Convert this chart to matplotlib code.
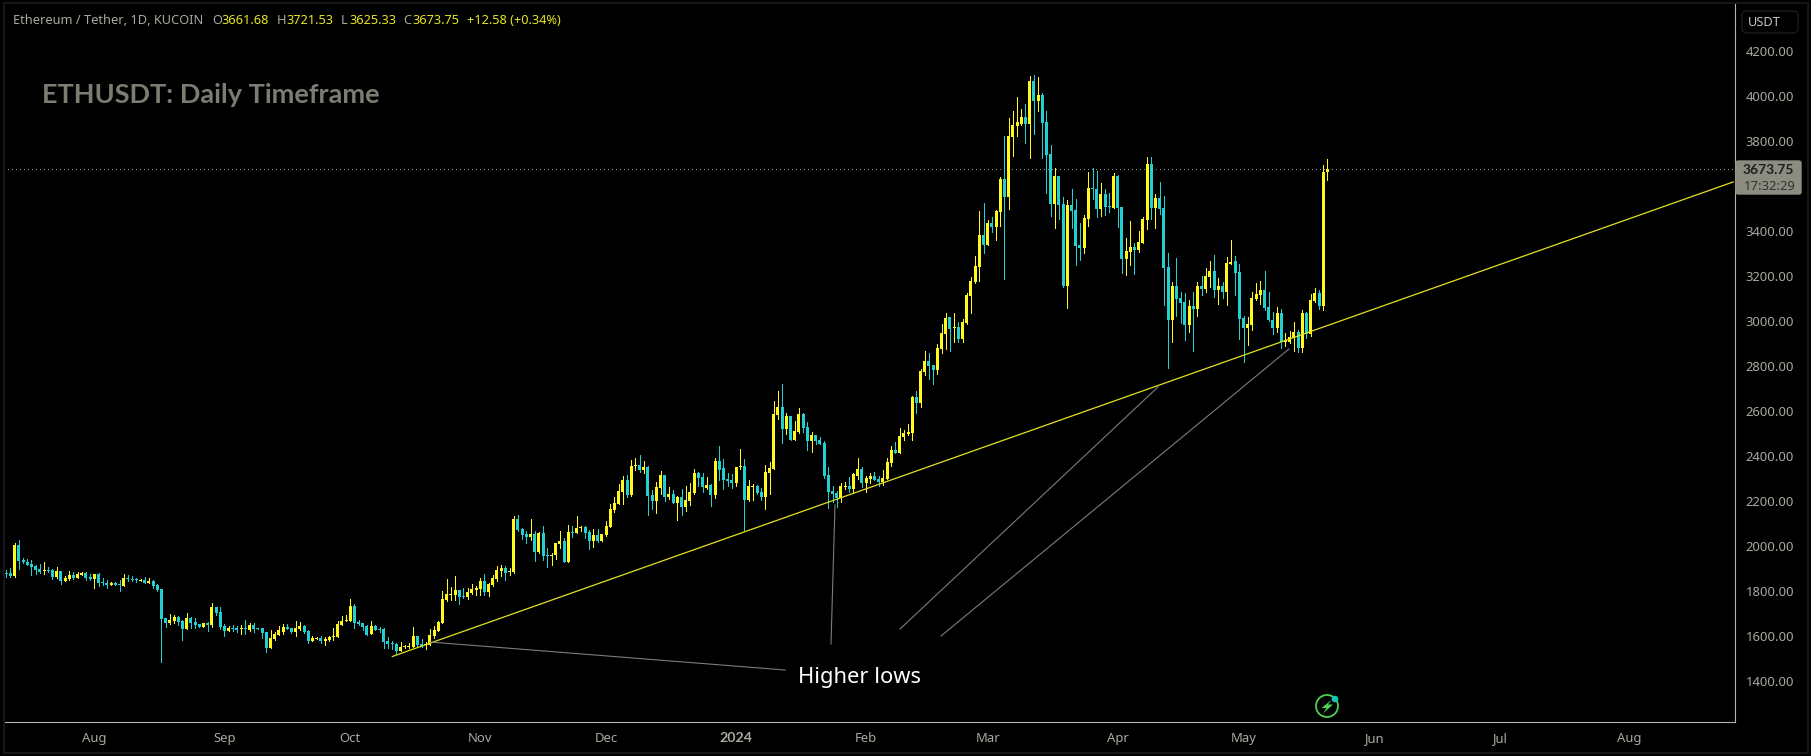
import matplotlib
matplotlib.use("Agg")
import matplotlib.pyplot as plt
from matplotlib.patches import Rectangle, FancyBboxPatch, Circle, Polygon
import numpy as np
import pandas as pd

START = "2023-07-11"
opens = [
1882,1881,1867,2005,1938,1930,1921,1912,1898,1890,
1894,1894,1863,1890,1845,1854,1872,1858,1872,1881,
1863,1854,1876,1841,1836,1827,1836,1832,1823,1858,
1854,1854,1845,1850,1836,1845,1827,1809,1680,1658,
1667,1685,1667,1632,1680,1663,1654,1640,1658,1649,
1729,1707,1645,1623,1636,1636,1632,1636,1627,1649,
1636,1636,1618,1547,1587,1605,1618,1640,1636,1618,
1632,1645,1623,1578,1587,1592,1578,1583,1596,1596,
1649,1667,1667,1734,1663,1658,1645,1609,1645,1632,
1632,1578,1569,1565,1534,1552,1552,1552,1600,1565,
1560,1560,1600,1623,1658,1761,1783,1783,1805,1778,
1774,1792,1805,1809,1845,1796,1827,1854,1889,1903,
1885,1885,2120,2076,2054,2040,2054,1974,2058,1960,
1956,1960,2009,2022,1929,2062,2058,2080,2085,2062,
2022,2049,2022,2049,2085,2160,2187,2240,2293,2227,
2356,2360,2338,2351,2227,2200,2258,2316,2218,2231,
2191,2218,2173,2200,2236,2324,2307,2258,2271,2227,
2378,2347,2298,2293,2280,2351,2356,2205,2262,2267,
2240,2218,2325,2342,2582,2618,2520,2578,2471,2507,
2587,2529,2467,2493,2471,2458,2316,2245,2236,2213,
2262,2267,2253,2311,2342,2280,2298,2311,2298,2285,
2298,2369,2427,2413,2484,2498,2502,2662,2635,2774,
2823,2805,2783,2876,2943,3018,2970,2974,2921,2991,
3111,3174,3240,3382,3338,3436,3418,3484,3631,3551,
3818,3867,3876,3907,3876,4067,3978,4005,3885,3742,
3520,3644,3520,3156,3516,3493,3338,3325,3453,3591,
3587,3498,3564,3511,3502,3644,3507,3276,3307,3329,
3316,3347,3449,3698,3502,3547,3502,3240,3005,3156,
3103,3085,2983,3067,3054,3156,3143,3196,3223,3138,
3156,3130,3254,3267,3218,3014,2970,2983,3098,3116,
3138,3063,3005,2970,3036,2907,2907,2925,2952,2881,
3036,2943,3090,3125,3067,3661.68]
highs = [
1894,1903,2014,2027,1947,1943,1938,1916,1921,1930,
1907,1898,1907,1890,1867,1890,1885,1885,1885,1885,
1876,1876,1881,1858,1850,1841,1841,1850,1876,1872,
1867,1858,1854,1863,1858,1850,1832,1809,1680,1698,
1694,1689,1672,1703,1685,1680,1654,1658,1663,1747,
1729,1729,1654,1645,1649,1645,1649,1672,1658,1658,
1636,1636,1618,1627,1618,1645,1654,1654,1636,1667,
1663,1649,1627,1600,1596,1600,1596,1600,1636,1667,
1689,1694,1765,1743,1672,1658,1649,1667,1649,1640,
1636,1596,1578,1569,1574,1560,1569,1640,1600,1587,
1574,1632,1645,1667,1800,1854,1818,1867,1805,1814,
1814,1831,1823,1858,1876,1836,1872,1912,1916,1912,
1903,2133,2138,2080,2067,2120,2067,2062,2089,1991,
1969,2014,2067,2036,2093,2089,2133,2089,2089,2071,
2076,2076,2054,2111,2187,2218,2276,2311,2316,2382,
2391,2404,2378,2356,2249,2284,2333,2316,2262,2249,
2222,2253,2267,2280,2342,2329,2324,2307,2276,2391,
2444,2387,2324,2320,2351,2431,2387,2293,2276,2271,
2258,2360,2373,2644,2689,2720,2591,2578,2556,2613,
2591,2551,2507,2493,2484,2467,2351,2267,2245,2280,
2285,2307,2325,2391,2351,2311,2325,2329,2311,2338,
2391,2444,2462,2524,2516,2542,2667,2690,2788,2868,
2859,2805,2899,2987,3036,3018,3036,2996,3009,3124,
3196,3289,3489,3524,3449,3462,3493,3640,3823,3903,
3934,3996,3943,3965,4089,4094,4085,4014,3934,3782,
3680,3644,3551,3538,3587,3542,3436,3471,3662,3680,
3667,3613,3587,3569,3658,3649,3507,3369,3445,3347,
3400,3462,3729,3729,3564,3618,3556,3303,3174,3280,
3130,3125,3094,3130,3174,3200,3236,3267,3294,3192,
3174,3285,3360,3289,3254,3023,3018,3130,3169,3178,
3223,3130,3041,3063,3054,2947,2956,2996,2961,3050,
3041,3121,3147,3138,3693,3721.53]
lows = [
1864,1863,1863,1898,1925,1916,1872,1876,1881,1876,
1885,1854,1858,1832,1845,1850,1854,1858,1872,1850,
1850,1814,1823,1827,1814,1827,1827,1801,1823,1845,
1845,1841,1845,1836,1836,1814,1801,1485,1640,1654,
1658,1649,1583,1632,1636,1636,1640,1640,1623,1640,
1694,1632,1600,1623,1623,1618,1609,1609,1623,1618,
1632,1592,1529,1547,1583,1605,1609,1632,1614,1600,
1627,1614,1569,1578,1587,1569,1560,1578,1583,1596,
1649,1667,1667,1636,1649,1627,1605,1609,1627,1618,
1547,1547,1543,1521,1534,1547,1547,1552,1552,1552,
1543,1560,1592,1623,1658,1756,1760,1760,1743,1769,
1765,1787,1783,1783,1783,1778,1823,1845,1867,1849,
1872,1880,2067,2031,2014,2027,1934,1969,1938,1907,
1916,1943,1991,1929,1929,2040,2058,2067,2036,1987,
1996,2018,2022,2045,2085,2151,2187,2187,2218,2222,
2338,2329,2324,2138,2165,2147,2231,2200,2209,2191,
2116,2138,2156,2182,2231,2267,2240,2253,2178,2213,
2293,2253,2267,2258,2267,2342,2071,2200,2205,2231,
2205,2165,2231,2342,2564,2458,2498,2471,2471,2502,
2507,2427,2418,2453,2453,2302,2169,2196,2173,2196,
2253,2240,2236,2298,2262,2240,2280,2294,2267,2271,
2298,2356,2413,2413,2471,2493,2471,2591,2618,2761,
2743,2721,2765,2859,2876,2868,2908,2908,2908,2987,
3036,3169,3178,3302,3338,3396,3360,3422,3187,3498,
3734,3823,3872,3792,3725,3832,3934,3725,3570,3467,
3413,3453,3152,3058,3413,3249,3271,3302,3422,3542,
3462,3467,3471,3484,3502,3418,3214,3205,3249,3209,
3307,3347,3409,3453,3413,3476,3072,2792,2908,3023,
2992,2916,2952,2868,3023,3116,3130,3152,3107,3076,
3103,3072,3254,3116,2921,2819,2894,2961,3094,3076,
3050,3000,2943,2952,2881,2890,2903,2868,2863,2863,
2925,2934,3085,3054,3050,3625.33]
closes = [
1876,1867,2005,1934,1930,1916,1907,1894,1885,1894,
1890,1863,1890,1845,1858,1872,1858,1876,1881,1858,
1854,1876,1836,1836,1827,1836,1827,1827,1858,1854,
1850,1850,1850,1836,1845,1823,1805,1676,1658,1672,
1685,1663,1632,1680,1658,1649,1640,1658,1649,1729,
1703,1640,1623,1636,1632,1627,1636,1632,1649,1632,
1632,1614,1547,1592,1609,1627,1640,1632,1618,1636,
1645,1618,1578,1592,1592,1578,1587,1596,1600,1654,
1667,1672,1734,1658,1654,1640,1605,1645,1627,1627,
1574,1565,1565,1534,1552,1556,1556,1600,1560,1556,
1565,1605,1627,1663,1765,1787,1787,1805,1774,1774,
1796,1809,1814,1845,1796,1832,1858,1894,1903,1880,
1889,2120,2071,2049,2040,2054,1974,2058,1956,1956,
1960,2014,2022,1929,2062,2058,2080,2085,2058,2022,
2049,2022,2054,2089,2165,2191,2245,2293,2227,2356,
2360,2338,2351,2222,2200,2262,2316,2218,2231,2191,
2218,2173,2205,2240,2324,2302,2262,2271,2227,2378,
2338,2293,2289,2280,2351,2356,2205,2267,2267,2236,
2218,2329,2347,2587,2618,2520,2578,2471,2511,2587,
2524,2467,2493,2467,2453,2311,2240,2231,2213,2267,
2267,2253,2320,2342,2280,2302,2311,2294,2285,2302,
2373,2427,2413,2489,2502,2507,2662,2635,2779,2823,
2801,2783,2881,2947,3014,2965,2974,2921,2996,3115,
3178,3245,3382,3338,3436,3418,3489,3631,3551,3822,
3872,3885,3907,3876,4067,3978,4005,3880,3738,3520,
3644,3516,3156,3516,3489,3334,3325,3458,3591,3587,
3498,3564,3507,3507,3644,3502,3276,3311,3329,3316,
3351,3453,3698,3502,3547,3498,3236,3005,3156,3098,
3081,2983,3067,3054,3156,3143,3200,3223,3138,3156,
3130,3258,3263,3214,3010,2970,2987,3103,3121,3138,
3058,3005,2970,3036,2907,2916,2930,2952,2881,3036,
2943,3094,3125,3067,3662,3673.75]
last_price = 3673.75
y_ticks = list(range(1400, 4201, 200))
month_starts = ["2023-08-01","2023-09-01","2023-10-01","2023-11-01","2023-12-01","2024-01-01",
                "2024-02-01","2024-03-01","2024-04-01","2024-05-01","2024-06-01","2024-07-01","2024-08-01"]
month_labels = ["Aug","Sep","Oct","Nov","Dec","2024","Feb","Mar","Apr","May","Jun","Jul","Aug"]
trend_days = [91.9, 411.9]
trend_prices = [1508, 3619]

FONT = "Noto Sans"
BOLD = "Lato"
W, H = 1811, 756
BG = "#000000"
YEL, TEAL = "#FFF91E", "#22CFD3"
TXT = "#A9A9A0"
plt.rcParams["font.family"] = FONT

fig = plt.figure(figsize=(W/100, H/100), dpi=100, facecolor=BG)
L, R, T, B = 4, 1735, 4, 721.5
ax = fig.add_axes([L/W, 1-B/H, (R-L)/W, (B-T)/H], facecolor=BG)

o, h, l, c = map(np.array, (opens, highs, lows, closes))
x = np.arange(len(o))
cols = np.where(c >= o, YEL, TEAL)

px_day = 4.194
x0_px = 6.3
ax.set_xlim((L-x0_px)/px_day, (R-x0_px)/px_day)
px_usd = 0.225
ax.set_ylim(4200-(B-51)/px_usd, 4200-(T-51)/px_usd)

ax.vlines(x, l, h, colors=cols, linewidth=0.72, antialiased=False, zorder=3)
top, bot = np.maximum(o, c), np.minimum(o, c)
ax.bar(x, np.maximum(top-bot, 4.5), bottom=bot, width=3/px_day, color=cols, linewidth=0,
       antialiased=False, zorder=4)

ax.axhline(last_price, color="#8f8f8f", lw=0.72, dashes=(1, 3), antialiased=False, zorder=2)
ax.plot(trend_days, trend_prices, color="#E2E21E", lw=0.9, zorder=5, solid_capstyle="butt")

start = pd.Timestamp(START)
ax.set_xticks([(pd.Timestamp(d)-start).days for d in month_starts])
ax.set_xticklabels(month_labels)
ax.set_yticks(y_ticks)
ax.set_yticklabels([f"{v}.00" for v in y_ticks])
ax.yaxis.tick_right()
ax.tick_params(axis="x", length=0, colors=TXT, labelsize=9.4, pad=7.5)
ax.tick_params(axis="y", length=0, colors=TXT, labelsize=9.4, pad=7.5)
for lab, name in zip(ax.get_xticklabels(), month_labels):
    if name == "2024":
        lab.set_fontfamily(BOLD)
        lab.set_fontweight("bold")
        lab.set_fontsize(10.2)
for s in ("left", "top"):
    ax.spines[s].set_visible(False)
for s in ("right", "bottom"):
    ax.spines[s].set_color("#B4B4AC")
    ax.spines[s].set_linewidth(0.8)

# overlay in image pixels for drawings, tag, legend line and frame
ov = fig.add_axes([0, 0, 1, 1], facecolor="none")
ov.set_xlim(0, W); ov.set_ylim(H, 0); ov.axis("off")
ov.add_patch(Rectangle((3.5, 2.5), W-7, H-6, fill=False, ec="#161616", lw=1.5))

seg = "#7C7C7C"
for (xa, ya, xb, yb) in [(430, 642, 785, 670), (835, 505, 831, 644), (1158, 387, 900, 629), (1289, 349, 941, 636)]:
    ov.plot([xa, xb], [ya, yb], color=seg, lw=0.8, zorder=6)
ov.text(860, 677, "Higher lows", color="white", fontsize=15.8, fontweight="medium",
        ha="center", va="center")
ov.text(42, 95, "ETHUSDT: Daily Timeframe", color="#7C7C72", fontsize=19.5, fontfamily=BOLD,
        fontweight="bold", ha="left", va="center")

# legend line
y0 = 20
ov.text(13, y0, "Ethereum / Tether, 1D, KUCOIN", color=TXT, fontsize=9.2, va="center")
for xk, k, xv, v in [(212, "O", 221, "3661.68"), (277, "H", 286, "3721.53"),
                     (341, "L", 349, "3625.33"), (403, "C", 412, "3673.75")]:
    ov.text(xk, y0, k, color=TXT, fontsize=9.2, va="center")
    ov.text(xv, y0, v, color="#E6E620", fontsize=9.2, va="center")
ov.text(467, y0, "+12.58 (+0.34%)", color="#E6E620", fontsize=9.2, va="center")

# scale widgets
ov.add_patch(FancyBboxPatch((1742, 11), 56, 22, boxstyle="round,pad=0,rounding_size=5",
                            fc=BG, ec="#1C1C1C", lw=1))
ov.text(1764, 22, "USDT", color="#C4C4C0", fontsize=9.2, ha="center", va="center")
ov.add_patch(FancyBboxPatch((1736, 161), 65, 33, boxstyle="round,pad=0,rounding_size=2",
                            fc="#8C8C80", ec="#8C8C80", lw=1))
ov.text(1768, 170, "3673.75", color="#1E1E1E", fontsize=10, fontfamily=BOLD, fontweight="bold",
        ha="center", va="center")
ov.text(1770, 186, "17:32:29", color="#333333", fontsize=9.4, ha="center", va="center")

# TradingView energy badge
ov.add_patch(Circle((1327, 706), 11, fill=False, ec="#4FD24F", lw=1.3, zorder=7))
ov.add_patch(Polygon([(1332, 699.5), (1321.5, 708), (1326.5, 708), (1323, 713.5), (1333, 704.5), (1328, 704.5)],
                     closed=True, fc="#4FD24F", ec="none", zorder=8))
ov.add_patch(Circle((1335, 699), 3.3, fc="#12C6B2", ec="none", zorder=9))

fig.savefig("out.png", dpi=100, facecolor=BG)
